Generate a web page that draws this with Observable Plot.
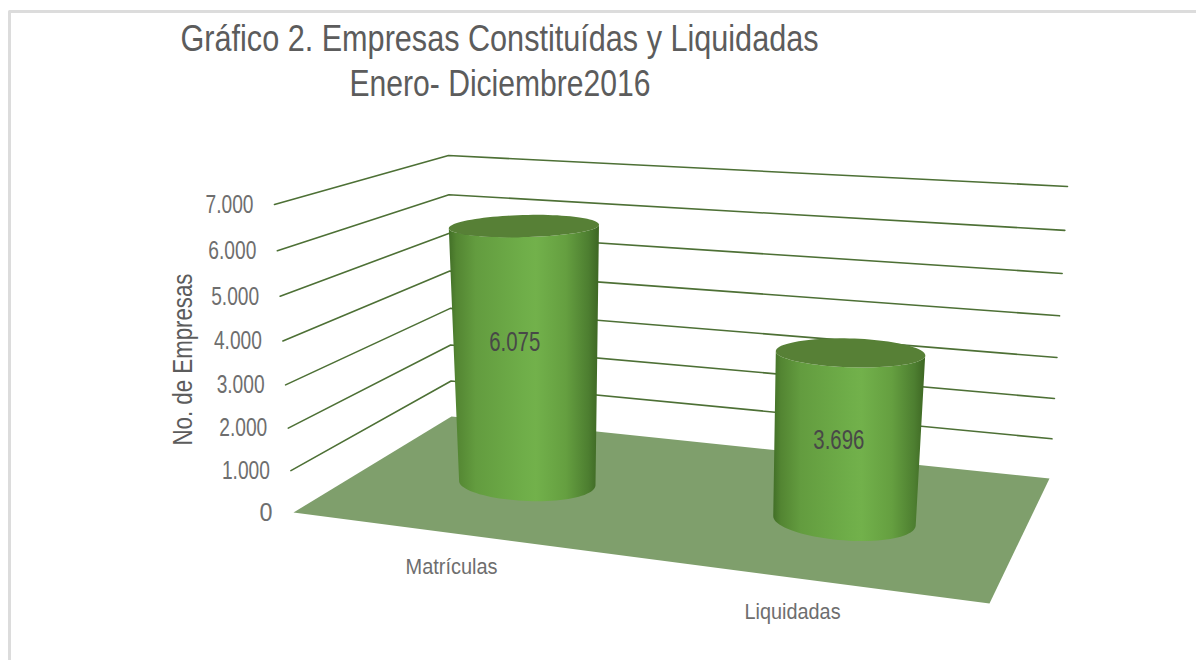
<!DOCTYPE html>
<html><head><meta charset="utf-8">
<script src="https://cdn.jsdelivr.net/npm/d3@7"></script>
<script src="https://cdn.jsdelivr.net/npm/@observablehq/plot@0.6"></script>
<style>html,body{margin:0;padding:0;background:#fff}svg{display:block}</style>
</head><body><div id="chart"></div>
<script>
const categories = ["Matrículas", "Liquidadas"];
const values = [6075, 3696];
const valueLabels = ["6.075", "3.696"];
const ticks = [0, 1000, 2000, 3000, 4000, 5000, 6000, 7000];
const tickLabels = ["0", "1.000", "2.000", "3.000", "4.000", "5.000", "6.000", "7.000"];
const yTitle = "No. de Empresas";
const titleLines = ["Gráfico 2. Empresas Constituídas y Liquidadas", "Enero- Diciembre2016"];

const W = 1196, H = 660, FONT = "'Liberation Sans',Arimo,sans-serif";
const wMax = 7000;
// camera calibration: screen image of the 3D box (u: category axis, v: depth, w: value)
const cam = {
  fl0:[293,512], bl0:[451,416], fr0:[989,603], br0:[1049,478],
  fl1:[274,204], bl1:[448,155], fr1:[1012,212], br1:[1067,186], persp:1.06
};
const bandCentre = [0.24, 0.73], ru = [0.1, 0.108], ruTop = [0.102, 0.11], rv = 0.16, rvTop = [0.21, 0.185];
const labelLift = [0.56, 0.485], labelShift = [-13, -6];
const mix = (a,b,t)=>[a[0]+(b[0]-a[0])*t, a[1]+(b[1]-a[1])*t];
function project(u,v,w){
  const t = w/wMax, s = t/(t+(1-t)*cam.persp);
  const lo = mix(mix(cam.fl0,cam.fr0,u), mix(cam.bl0,cam.br0,u), v);
  const hi = mix(mix(cam.fl1,cam.fr1,u), mix(cam.bl1,cam.br1,u), v);
  const p = mix(lo,hi,s);
  return {x:p[0], y:p[1]};
}
const angles = d3.range(0,361,4).map(d=>d*Math.PI/180);
const ring = (i,w,a0,b0)=>angles.map(a=>project(bandCentre[i]+a0*Math.cos(a),0.5+b0*Math.sin(a),w));
const baseRing = i=>ring(i,0,ru[i],rv);
const topRing = i=>ring(i,values[i],ruTop[i],rvTop[i]);
function body(i){
  const front = r=>{ const a=d3.minIndex(r,d=>d.x), b=d3.maxIndex(r,d=>d.x);
    const one=[],two=[]; const n=r.length-1;
    for(let k=a;;k=(k+1)%n){ one.push(r[k]); if(k===b) break; }
    for(let k=a;;k=(k+n-1)%n){ two.push(r[k]); if(k===b) break; }
    return d3.mean(one,d=>d.y)>d3.mean(two,d=>d.y)?one:two; };
  return [...front(topRing(i)), ...front(baseRing(i)).reverse()];
}
const wallLines = ticks.slice(1).map(w=>[project(0,0,w),project(0,1,w),project(1,1,w)]);
const floor = [project(0,0,0),project(1,0,0),project(1,1,0),project(0,1,0)];
const frame = [{x:9,y:H},{x:9,y:11},{x:W,y:11}];
// rendered widths of the condensed (Arial Narrow style) labels
const textWidths = new Map([
  [titleLines[0],638],[titleLines[1],301],[yTitle,172],
  [categories[0],92],[categories[1],96],
  [valueLabels[0],51],[valueLabels[1],51],
  ...tickLabels.map(t=>[t,t.length>1?48:13])
]);

function gradient(){
  const defs = d3.create("svg:defs");
  const g = defs.append("linearGradient").attr("id","cyl").attr("x1",0).attr("x2",1).attr("y1",0).attr("y2",0);
  [[0,"#426f27"],[0.05,"#538532"],[0.18,"#639c3f"],[0.5,"#6fae49"],[0.58,"#72b14b"],[0.78,"#659f40"],[0.93,"#4d7e30"],[1,"#3d6623"]]
    .forEach(([o,c])=>g.append("stop").attr("offset",o).attr("stop-color",c));
  return defs.node();
}
const X=d=>d.x, Y=d=>d.y;
const marks = [
  gradient,
  Plot.line(frame,{x:X,y:Y,stroke:"#dcdcdc",strokeWidth:3}),
  ...wallLines.map(l=>Plot.line(l,{x:X,y:Y,stroke:"#4d7035",strokeWidth:1.6})),
  Plot.line(floor,{x:X,y:Y,fill:"#7f9f6c",stroke:"none",curve:"linear-closed"}),
];
values.forEach((v,i)=>{
  marks.push(Plot.line(body(i),{x:X,y:Y,fill:"url(#cyl)",stroke:"none",curve:"linear-closed"}));
  marks.push(Plot.line(topRing(i),{x:X,y:Y,fill:"#578036",stroke:"none",curve:"linear-closed"}));
});
marks.push(
  Plot.text(ticks,{x:w=>project(0,0,w).x,y:w=>project(0,0,w).y,text:(w,i)=>tickLabels[i],dx:-21,textAnchor:"end",fontSize:26,fill:"#6e6e6e",fontFamily:FONT}),
  Plot.text([yTitle],{x:()=>183,y:()=>359,text:d=>d,rotate:-90,fontSize:27,fill:"#5c5c5c",fontFamily:FONT}),
  Plot.text(categories,{x:(d,i)=>project(bandCentre[i],0,0).x,y:(d,i)=>project(bandCentre[i],0,0).y,text:d=>d,dx:-9,dy:33,fontSize:22,fill:"#6e6e6e",fontFamily:FONT}),
  Plot.text(valueLabels,{x:(d,i)=>project(bandCentre[i],0.5,0).x+labelShift[i],y:(d,i)=>project(bandCentre[i],0.5,values[i]*labelLift[i]).y,text:d=>d,fontSize:27,fill:"#484848",fontFamily:FONT}),
  Plot.text(titleLines,{x:(d,i)=>[499,499.5][i],y:(d,i)=>[39,84][i],text:d=>d,fontSize:36,fill:"#5c5c5c",fontFamily:FONT})
);
const svg = Plot.plot({
  width:W,height:H,margin:0,
  x:{domain:[0,W],range:[0,W],axis:null},
  y:{domain:[0,H],range:[0,H],axis:null},
  marks
});
d3.select(svg).selectAll("text").each(function(){
  const w = textWidths.get(this.textContent);
  if (w) d3.select(this).attr("textLength",w).attr("lengthAdjust","spacingAndGlyphs");
});
document.getElementById("chart").append(svg);
</script></body></html>
